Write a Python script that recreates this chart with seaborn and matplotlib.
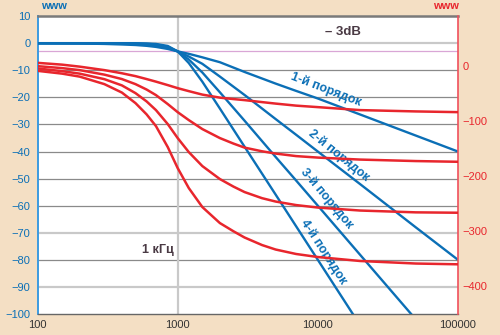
import numpy as np
import pandas as pd
import matplotlib
matplotlib.use('Agg')
import matplotlib.pyplot as plt
import seaborn as sns
from matplotlib.ticker import LogLocator, NullFormatter

sns.set_theme(style='white')
plt.rcParams['font.family'] = ['Liberation Sans', 'DejaVu Sans']
plt.rcParams['axes.unicode_minus'] = True

# ---------------- data ----------------
freq_mag = [100, 200, 300, 400, 500, 600, 700, 850, 1000, 1200, 1500, 2000,
            3000, 5000, 7000, 10000, 20000, 50000, 100000]
mag_1 = [0, -0.1, -0.25, -0.45, -0.65, -0.95, -1.35, -2.1, -3.0, -3.9, -5.2,
         -7.0, -10.6, -14.9, -17.6, -20.4, -26.3, -34.1, -40.0]
mag_2 = [0, 0, 0, -0.05, -0.2, -0.45, -0.85, -1.7, -3.0, -4.9, -7.6, -12.3,
         -19.1, -28.0, -33.8, -40.0, -52.0, -68.0, -80.0]
mag_3 = [0, 0, 0, 0, -0.05, -0.2, -0.45, -1.3, -3.0, -6.0, -10.8, -18.1,
         -28.6, -42.0, -50.7, -60.0, -78.1, -102.0]
mag_4 = [0, 0, 0, 0, 0, -0.1, -0.25, -1.0, -3.0, -7.3, -14.2, -24.1, -38.2,
         -55.9, -67.6, -80.0, -104.1]

freq_ph = [100, 150, 200, 300, 400, 500, 600, 700, 850, 1000, 1200, 1500, 2000,
           2500, 3000, 4000, 5000, 7000, 10000, 20000, 50000, 100000]
ph_1 = [5.4, 2.1, -1.5, -7.8, -13.5, -18.7, -24.0, -28.7, -35.0, -40.5, -45.9,
        -52.2, -57.7, -60.3, -62.2, -65.8, -68.5, -72.2, -74.9, -80.3, -82.7, -84.0]
ph_2 = [-0.6, -4.2, -7.8, -16.0, -24.0, -33.2, -43.0, -53.1, -69.4, -84.0,
        -98.4, -114.7, -131.0, -141.0, -148.3, -155.0, -159.1, -163.7, -166.4,
        -170.0, -172.7, -174.0]
ph_3 = [-4.8, -9.7, -14.2, -24.2, -35.5, -49.5, -64.5, -80.3, -105.7, -131.0,
        -156.4, -181.8, -205.3, -219.0, -228.9, -240.0, -246.1, -252.5, -257.0,
        -262.4, -265.7, -266.4]
ph_4 = [-9.1, -14.2, -19.6, -33.2, -48.5, -67.6, -88.0, -109.3, -147.4, -185.4,
        -221.6, -256.1, -285.1, -300.0, -311.3, -325.0, -333.1, -341.2, -346.7,
        -353.9, -358.5, -359.9]

order_labels = ['1-й порядок', '2-й порядок', '3-й порядок', '4-й порядок']
left_ticks = [10, 0, -10, -20, -30, -40, -50, -60, -70, -80, -90, -100]
right_ticks = [0, -100, -200, -300, -400]
x_ticks = [100, 1000, 10000, 100000]
x_tick_labels = ['100', '1000', '10000', '100000']

# ---------------- tables ----------------
mags = [mag_1, mag_2, mag_3, mag_4]
phs = [ph_1, ph_2, ph_3, ph_4]
df_mag = pd.concat([pd.DataFrame({'freq': freq_mag[:len(m)], 'db': m, 'order': i + 1})
                    for i, m in enumerate(mags)], ignore_index=True)
df_ph = pd.concat([pd.DataFrame({'freq': freq_ph, 'deg': p, 'order': i + 1})
                   for i, p in enumerate(phs)], ignore_index=True)

# ---------------- style ----------------
bg = '#f4dfc4'
blue = '#0b6fb6'
red = '#e8262d'
dark_grid = '#8a8a8a'
light_grid = '#c9c9c9'
text_dark = '#4a3a44'

fig = plt.figure(figsize=(5, 3.35), dpi=100, facecolor=bg)
ax = fig.add_axes([0.075, 0.0627, 0.841, 0.889])
ax.set_facecolor('white')
ax.set_xscale('log')
ax.set_xlim(100, 100000)
ax.set_ylim(-100, 10)

# grid lines
for v in left_ticks[1:-1]:
    if v in (0, -70, -90):
        ax.axhline(v, color=light_grid, lw=1.6, zorder=0.5)
    else:
        ax.axhline(v, color=dark_grid, lw=0.9, zorder=0.5)
ax.axhline(-3, color='#d9a6d6', lw=0.9, zorder=0.6)
ax.axvline(1000, color=light_grid, lw=1.6, zorder=0.5)

sns.lineplot(data=df_mag, x='freq', y='db', units='order', estimator=None,
             color=blue, lw=1.7, ax=ax, legend=False, zorder=3)
ax.set_xlim(100, 100000)
ax.set_ylim(-100, 10)
ax.set_xlabel('')
ax.set_ylabel('')

ax.set_yticks(left_ticks)
ax.tick_params(axis='y', length=0, pad=5, labelcolor=blue, labelsize=8)
ax.set_xticks(x_ticks)
ax.set_xticklabels(x_tick_labels)
ax.xaxis.set_minor_locator(LogLocator(base=10, subs=np.arange(2, 10)))
ax.xaxis.set_minor_formatter(NullFormatter())
ax.tick_params(axis='x', which='both', direction='in', length=3, width=0.8,
               color='#8a8a8a', labelcolor='#333333', labelsize=8, pad=4)

for s in ['left', 'right', 'top', 'bottom']:
    ax.spines[s].set_visible(True)
ax.spines['left'].set_color('#3c9be0')
ax.spines['left'].set_linewidth(1.4)
ax.spines['top'].set_color('#7a7a7a')
ax.spines['top'].set_linewidth(1.8)
ax.spines['bottom'].set_color('#666666')
ax.spines['bottom'].set_linewidth(1.0)
ax.spines['right'].set_visible(False)

ax2 = ax.twinx()
sns.lineplot(data=df_ph, x='freq', y='deg', units='order', estimator=None,
             color=red, lw=1.8, ax=ax2, legend=False, zorder=3)
ax2.set_ylim(-450, 90)
ax2.set_xlim(100, 100000)
ax2.set_ylabel('')
ax2.set_xlabel('')
ax2.set_yticks(right_ticks)
ax2.tick_params(axis='y', length=0, pad=3, labelcolor=red, labelsize=8)
for s in ['left', 'top', 'bottom']:
    ax2.spines[s].set_visible(False)
ax2.spines['right'].set_visible(True)
ax2.spines['right'].set_color('#f0505c')
ax2.spines['right'].set_linewidth(1.2)

# order labels along the lines
label_pos = [(11430, -16.9, -21), (14000, -41.5, -39), (11600, -57.5, -50), (11060, -77.1, -57)]
for txt, (fx, fy, rot) in zip(order_labels, label_pos):
    ax.text(fx, fy, txt, rotation=rot, rotation_mode='anchor', ha='center',
            va='center', color=blue, fontsize=9, fontweight='bold', zorder=5)

fig.text(343 / 500, 1 - 31.7 / 335, '– 3dB', ha='center', va='center',
         fontsize=9.5, fontweight='bold', color=text_dark)
fig.text(158 / 500, 1 - 250 / 335, '1 кГц', ha='center', va='center',
         fontsize=9, fontweight='bold', color=text_dark)
fig.text(54 / 500, 1 - 6 / 335, 'www', ha='center', va='center',
         fontsize=8, fontweight='bold', color=blue)
fig.text(446 / 500, 1 - 6 / 335, 'www', ha='center', va='center',
         fontsize=8, fontweight='bold', color=red)

fig.savefig('out.png', dpi=100, facecolor=bg)
